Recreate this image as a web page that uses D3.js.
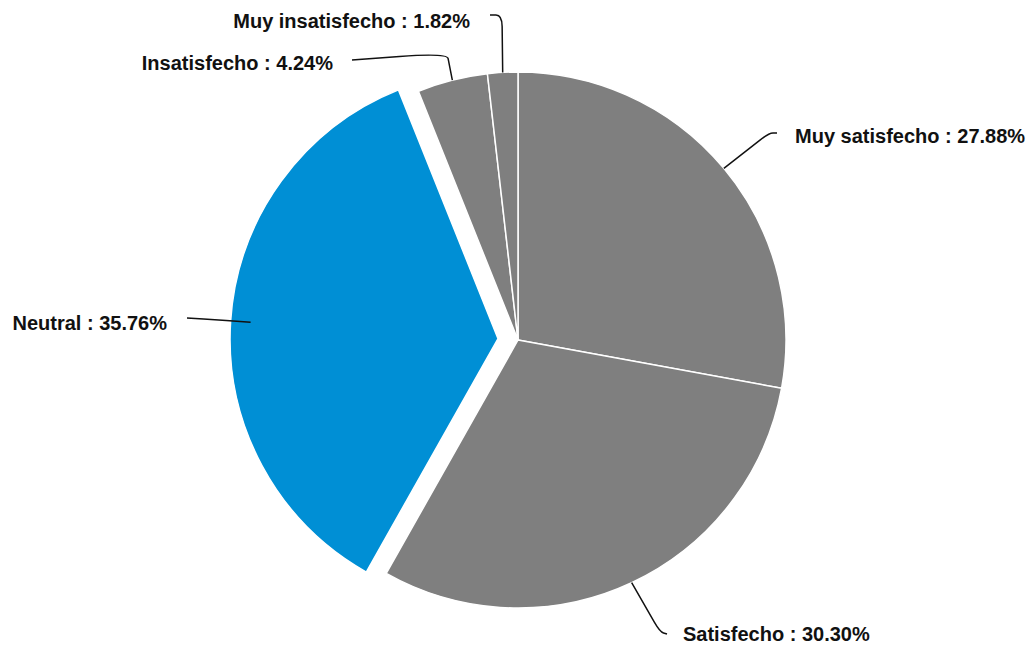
<!DOCTYPE html>
<html>
<head>
<meta charset="utf-8">
<script src="https://cdn.jsdelivr.net/npm/d3@7"></script>
<style>
  html, body { margin: 0; padding: 0; background: #ffffff; }
  svg { display: block; }
  .lbl { font-family: "Liberation Sans", Arial, sans-serif; font-weight: bold; font-size: 20px; fill: #111; }
</style>
</head>
<body>
<svg id="chart" width="1032" height="645"></svg>
<script>
// Satisfaction survey shares (percent), clockwise from 12 o'clock
const categories = ["Muy satisfecho", "Satisfecho", "Neutral", "Insatisfecho", "Muy insatisfecho"];
const shares = [27.88, 30.30, 35.76, 4.24, 1.82];
const highlighted = "Neutral";

// Label placement: where each leader line bends and ends, and where its text sits
const labelLayout = {
  "Muy satisfecho":   { elbow: [769, 133], end: [777, 133], text: [795, 143], anchor: "start" },
  "Satisfecho":       { elbow: [660, 632], end: [667, 634], text: [683, 641], anchor: "start" },
  "Neutral":          { elbow: [220, 320], end: [187, 318], text: [167, 330], anchor: "end" },
  "Insatisfecho":     { elbow: [447, 53],  end: [352, 60],  text: [333, 70],  anchor: "end" },
  "Muy insatisfecho": { elbow: [502, 15],  end: [490, 15],  text: [470, 28],  anchor: "end" }
};

const svg = d3.select("#chart");
const cx = 518, cy = 340, radius = 268, explode = 20;

const data = categories.map((c, i) => ({ name: c, value: shares[i] }));
const pie = d3.pie().value(d => d.value).sort(null);
const arcs = pie(data);
const arc = d3.arc().innerRadius(0).outerRadius(radius);

const color = d => d.data.name === highlighted ? "#008fd5" : "#7f7f7f";

const g = svg.append("g").attr("transform", `translate(${cx},${cy})`);

g.selectAll("path.slice")
  .data(arcs)
  .join("path")
  .attr("class", "slice")
  .attr("d", arc)
  .attr("fill", color)
  .attr("stroke", "#ffffff")
  .attr("stroke-width", 1.5)
  .attr("stroke-linejoin", "round")
  .attr("transform", d => {
    if (d.data.name !== highlighted) return null;
    const mid = (d.startAngle + d.endAngle) / 2;
    return `translate(${explode * Math.sin(mid)},${-explode * Math.cos(mid)})`;
  });

// Leader lines start on the rim at each slice's middle angle
const labels = svg.append("g");
arcs.forEach(d => {
  const L = labelLayout[d.data.name];
  const mid = (d.startAngle + d.endAngle) / 2;
  const sx = cx + radius * Math.sin(mid);
  const sy = cy - radius * Math.cos(mid);
  const [ex, ey] = L.elbow;
  const [tx, ty] = L.end;
  // approach the elbow, then round the corner toward the end point
  const k = 0.8;
  const ax = sx + (ex - sx) * k, ay = sy + (ey - sy) * k;
  const bx = ex + (tx - ex) * 0.5, by = ey + (ty - ey) * 0.5;
  const p = d3.path();
  p.moveTo(sx, sy);
  p.lineTo(ax, ay);
  p.quadraticCurveTo(ex, ey, bx, by);
  p.lineTo(tx, ty);
  labels.append("path")
    .attr("d", p.toString())
    .attr("fill", "none")
    .attr("stroke", "#111")
    .attr("stroke-width", 1.5);
  labels.append("text")
    .attr("class", "lbl")
    .attr("x", L.text[0])
    .attr("y", L.text[1])
    .attr("text-anchor", L.anchor)
    .text(`${d.data.name} : ${d.data.value.toFixed(2)}%`);
});
</script>
</body>
</html>
